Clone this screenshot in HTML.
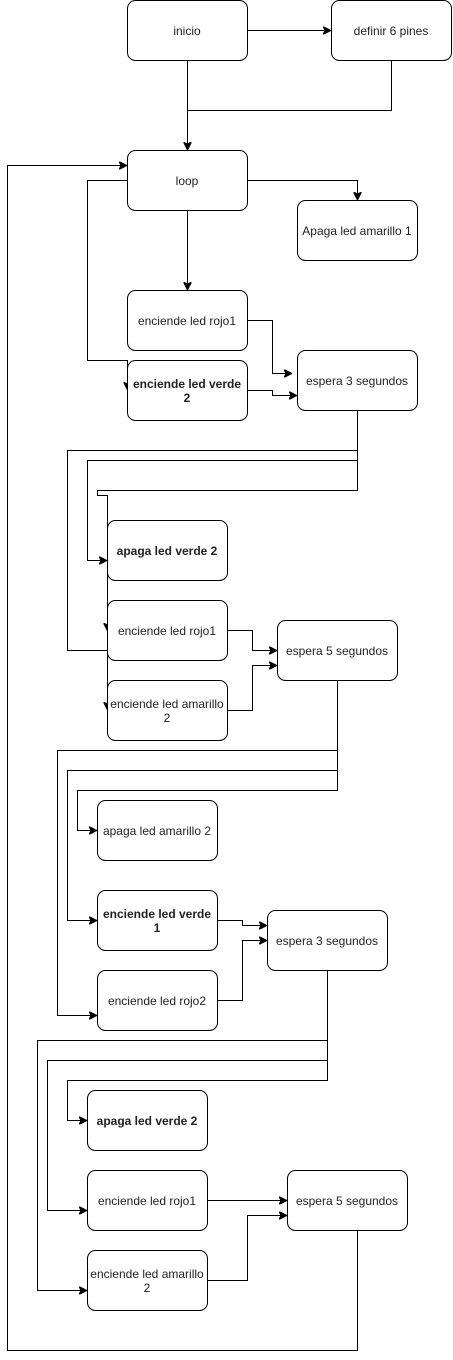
<!DOCTYPE html>
<html><head><meta charset="utf-8"><style>
html,body{margin:0;padding:0;background:#fff;}
svg{display:block;}
text{font-family:"Liberation Sans",sans-serif;font-size:12px;fill:#222;text-anchor:middle;}
.b{font-weight:bold;}
rect{fill:#fff;stroke:#000;stroke-width:1;}
path{fill:none;stroke:#000;stroke-width:1;}
</style></head><body>
<svg width="453" height="1360" viewBox="0 0 453 1360" xmlns="http://www.w3.org/2000/svg">
<defs><marker id="a" markerWidth="8" markerHeight="8" refX="7" refY="4" orient="auto" markerUnits="userSpaceOnUse"><path d="M0,0 L8,4 L0,8 L2,4 Z" style="fill:#000;stroke:#000"/></marker></defs>
<g>
<path d="M247.5,30.5H330" marker-end="url(#a)"/>
<path d="M187.5,60V149" marker-end="url(#a)"/>
<path d="M391.5,60V110.5H187.5"/>
<path d="M247,180.5H357.5V199" marker-end="url(#a)"/>
<path d="M187.5,210V289" marker-end="url(#a)"/>
<path d="M127,180.5H87.5V360.5H127.5V389" marker-end="url(#a)"/>
<path d="M247,320.5H272.5V373.5H291" marker-end="url(#a)"/>
<path d="M247,390.5H272.5V395.5H296" marker-end="url(#a)"/>
<path d="M357.5,410V490.5H97.5V495.5H107.5V709" marker-end="url(#a)"/>
<path d="M357.5,450.5H67.5V650.5H107.5"/>
<path d="M107.5,620V630" marker-end="url(#a)"/>
<path d="M357.5,460.5H87.5V560.5H106" marker-end="url(#a)"/>
<path d="M227,630.5H252.5V650.5H276" marker-end="url(#a)"/>
<path d="M227,710.5H252.5V665.5H276" marker-end="url(#a)"/>
<path d="M337.5,680V790.5H77.5V830.5H96" marker-end="url(#a)"/>
<path d="M337.5,750.5H57.5V1015.5H96" marker-end="url(#a)"/>
<path d="M337.5,770.5H67.5V920.5H96" marker-end="url(#a)"/>
<path d="M217,920.5H242.5V925.5H266" marker-end="url(#a)"/>
<path d="M217,1000.5H242.5V940.5H266" marker-end="url(#a)"/>
<path d="M327.5,970V1080.5H67.5V1120.5H86" marker-end="url(#a)"/>
<path d="M327.5,1040.5H37.5V1290.5H86" marker-end="url(#a)"/>
<path d="M327.5,1060.5H47.5V1210.5H86" marker-end="url(#a)"/>
<path d="M207,1200.5H286" marker-end="url(#a)"/>
<path d="M207,1280.5H247.5V1215.5H286" marker-end="url(#a)"/>
<path d="M357.5,1230V1350.5H7.5V165.5H126" marker-end="url(#a)"/>
</g>
<g>
<rect x="127.5" y="0.5" width="120" height="60" rx="8"/><text x="187" y="35">inicio</text>
<rect x="331.5" y="0.5" width="120" height="60" rx="8"/><text x="391" y="35">definir 6 pines</text>
<rect x="127.5" y="150.5" width="120" height="60" rx="8"/><text x="187" y="185">loop</text>
<rect x="297.5" y="200.5" width="120" height="60" rx="8"/><text x="357" y="235">Apaga led amarillo 1</text>
<rect x="127.5" y="290.5" width="120" height="60" rx="8"/><text x="187" y="325">enciende led rojo1</text>
<rect x="127.5" y="360.5" width="120" height="60" rx="8"/><text class="b" x="187" y="388">enciende led verde</text><text class="b" x="187" y="402">2</text>
<rect x="297.5" y="350.5" width="120" height="60" rx="8"/><text x="357" y="385">espera 3 segundos</text>
<rect x="107.5" y="520.5" width="120" height="60" rx="8"/><text class="b" x="167" y="555">apaga led verde 2</text>
<rect x="107.5" y="600.5" width="120" height="60" rx="8"/><text x="167" y="635">enciende led rojo1</text>
<rect x="107.5" y="680.5" width="120" height="60" rx="8"/><text x="167" y="708">enciende led amarillo</text><text x="167" y="722">2</text>
<rect x="277.5" y="620.5" width="120" height="60" rx="8"/><text x="337" y="655">espera 5 segundos</text>
<rect x="97.5" y="800.5" width="120" height="60" rx="8"/><text x="157" y="835">apaga led amarillo 2</text>
<rect x="97.5" y="890.5" width="120" height="60" rx="8"/><text class="b" x="157" y="918">enciende led verde</text><text class="b" x="157" y="932">1</text>
<rect x="267.5" y="910.5" width="120" height="60" rx="8"/><text x="327" y="945">espera 3 segundos</text>
<rect x="97.5" y="970.5" width="120" height="60" rx="8"/><text x="157" y="1005">enciende led rojo2</text>
<rect x="87.5" y="1090.5" width="120" height="60" rx="8"/><text class="b" x="147" y="1125">apaga led verde 2</text>
<rect x="87.5" y="1170.5" width="120" height="60" rx="8"/><text x="147" y="1205">enciende led rojo1</text>
<rect x="287.5" y="1170.5" width="120" height="60" rx="8"/><text x="347" y="1205">espera 5 segundos</text>
<rect x="87.5" y="1250.5" width="120" height="60" rx="8"/><text x="147" y="1278">enciende led amarillo</text><text x="147" y="1292">2</text>
</g>
</svg>
</body></html>
